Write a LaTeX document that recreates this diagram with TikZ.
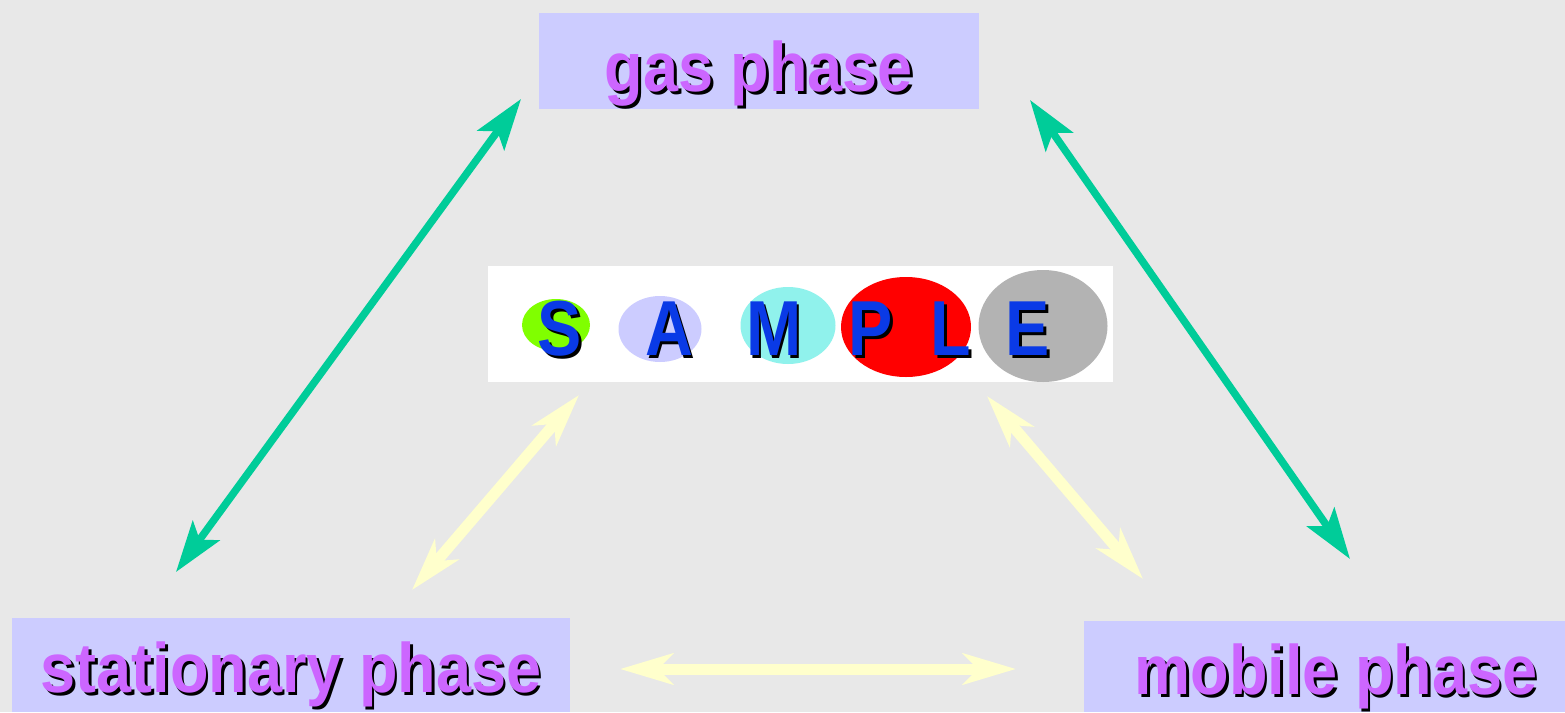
\documentclass[tikz,border=0pt]{standalone}
\usepackage{fontspec}
\setmainfont{Liberation Sans}
\usetikzlibrary{arrows.meta,shapes.geometric}
\definecolor{bg}{HTML}{E8E8E8}
\definecolor{boxfill}{HTML}{CCCCFF}
\definecolor{phasetxt}{HTML}{CC66FF}
\definecolor{arrgreen}{HTML}{00CC99}
\definecolor{arryellow}{HTML}{FFFFCC}
\definecolor{lettblue}{HTML}{0A3AE6}
\definecolor{elgreen}{HTML}{80FF00}
\definecolor{ellav}{HTML}{CCCCFF}
\definecolor{elcyan}{HTML}{90F2EC}
\definecolor{elred}{HTML}{FF0000}
\definecolor{elgrey}{HTML}{B3B3B3}
\newcommand{\shadowtext}[2]{\makebox[0pt][l]{\kern3pt\raisebox{-3pt}{\textcolor{black}{#2}}}\textcolor{#1}{#2}}
\tikzset{
  phasebox/.style={fill=boxfill, draw=none, inner sep=0pt},
  phaselabel/.style={anchor=base, inner sep=0pt, font=\bfseries\fontsize{70}{80}\selectfont},
  letter/.style={anchor=base, inner sep=0pt, font=\bfseries\fontsize{78}{88}\selectfont},
  blob/.style={ellipse, draw=none, inner sep=0pt},
  greenarrow/.style={draw=arrgreen, line width=7.5pt, {Stealth[length=51pt,width=33pt,inset=11pt,fill=arrgreen]}-{Stealth[length=51pt,width=33pt,inset=11pt,fill=arrgreen]}},
  yellowarrow/.style={draw=arryellow, line width=11pt, {Stealth[length=53pt,width=31pt,inset=15pt,fill=arryellow]}-{Stealth[length=53pt,width=31pt,inset=15pt,fill=arryellow]}}
}
\begin{document}
\begin{tikzpicture}[x=1pt,y=-1pt]
\fill[bg] (0,0) rectangle (1565,712);
\useasboundingbox (0,0) rectangle (1565,712);
% boxes
\node[phasebox, minimum width=440pt, minimum height=96pt] (gasbox) at (759,61) {};
\node[phasebox, minimum width=558pt, minimum height=94pt] (statbox) at (291,665) {};
\node[phasebox, minimum width=481pt, minimum height=91pt] (mobbox) at (1324.5,666.5) {};
\node[phaselabel] (gas) at (759,91) {\scalebox{0.9}[1]{\shadowtext{phasetxt}{gas phase}}};
\node[phaselabel] (stat) at (291,692) {\scalebox{0.9}[1]{\shadowtext{phasetxt}{stationary phase}}};
\node[phaselabel] (mob) at (1336,694) {\scalebox{0.9}[1]{\shadowtext{phasetxt}{mobile phase}}};
% arrow end points
\coordinate (g1a) at (176,572);
\coordinate (g1b) at (521,99);
\coordinate (g2a) at (1030,100);
\coordinate (g2b) at (1350,559);
\coordinate (y1a) at (412,590);
\coordinate (y1b) at (579,395);
\coordinate (y2a) at (987,396);
\coordinate (y2b) at (1143,579);
\coordinate (y3a) at (620,669);
\coordinate (y3b) at (1016,669);
\draw[greenarrow] (g1a) -- (g1b);
\draw[greenarrow] (g2a) -- (g2b);
\draw[yellowarrow] (y1a) -- (y1b);
\draw[yellowarrow] (y2a) -- (y2b);
\draw[yellowarrow] (y3a) -- (y3b);
% sample
\node[fill=white, draw=none, inner sep=0pt, minimum width=625pt, minimum height=116pt] (samplebox) at (800,324) {};
\node[blob, fill=elgreen, minimum width=68pt, minimum height=52pt] (eS) at (556,325) {};
\node[blob, fill=ellav, minimum width=83pt, minimum height=66pt] (eA) at (660,329) {};
\node[blob, fill=elcyan, minimum width=95pt, minimum height=77pt] (eM) at (788,325.5) {};
\node[blob, fill=elred, minimum width=130pt, minimum height=100pt] (eP) at (906,327) {};
\node[blob, fill=elgrey, minimum width=129pt, minimum height=112pt] (eE) at (1043,326) {};
\node[letter] (S) at (560,355) {\scalebox{0.85}[1]{\shadowtext{lettblue}{S}}};
\node[letter] (A) at (669,355) {\scalebox{0.85}[1]{\shadowtext{lettblue}{A}}};
\node[letter] (M) at (774,355) {\scalebox{0.85}[1]{\shadowtext{lettblue}{M}}};
\node[letter] (P) at (871,355) {\scalebox{0.85}[1]{\shadowtext{lettblue}{P}}};
\node[letter] (L) at (951,355) {\scalebox{0.85}[1]{\shadowtext{lettblue}{L}}};
\node[letter] (E) at (1028,355) {\scalebox{0.85}[1]{\shadowtext{lettblue}{E}}};
\end{tikzpicture}
\end{document}
